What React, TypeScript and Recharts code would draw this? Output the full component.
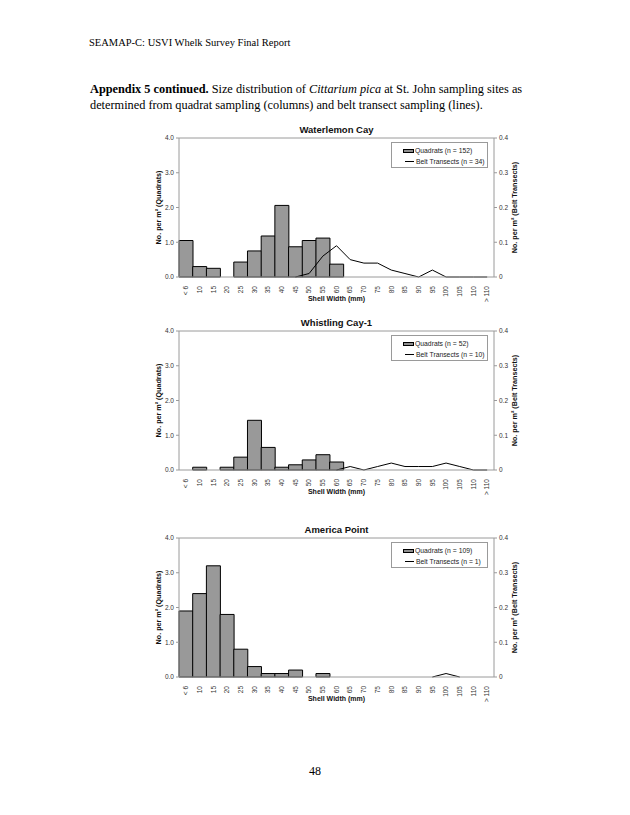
import React from 'react';
import { ComposedChart, Bar, Line, XAxis, YAxis, ReferenceLine } from 'recharts';

const sizeClasses = ['< 6', '10', '15', '20', '25', '30', '35', '40', '45', '50', '55', '60', '65', '70', '75', '80', '85', '90', '95', '100', '105', '110', '> 110'];

const leftTicks = [0, 1, 2, 3, 4];
const rightTicks = [0, 0.1, 0.2, 0.3, 0.4];

// Waterlemon Cay
const waterlemonQuadrats = [1.05, 0.3, 0.25, 0, 0.43, 0.75, 1.18, 2.06, 0.87, 1.05, 1.12, 0.37, 0, 0, 0, 0, 0, 0, 0, 0, 0, 0, 0];
const waterlemonBelt = [null, null, null, null, null, null, null, null, 0, 0.01, 0.06, 0.09, 0.05, 0.04, 0.04, 0.02, 0.01, 0, 0.02, 0, 0, 0, 0];

// Whistling Cay-1
const whistlingQuadrats = [0, 0.08, 0, 0.08, 0.37, 1.43, 0.65, 0.08, 0.15, 0.29, 0.44, 0.23, 0, 0, 0, 0, 0, 0, 0, 0, 0, 0, 0];
const whistlingBelt = [null, null, null, null, null, null, null, null, null, null, null, 0, 0.01, 0, 0.01, 0.02, 0.01, 0.01, 0.01, 0.02, 0.01, 0, 0];

// America Point
const americaQuadrats = [1.9, 2.4, 3.2, 1.8, 0.8, 0.3, 0.1, 0.1, 0.2, 0, 0.1, 0, 0, 0, 0, 0, 0, 0, 0, 0, 0, 0, 0];
const americaBelt = [null, null, null, null, null, null, null, null, null, null, null, null, null, null, null, null, null, null, 0, 0.01, 0, null, null];

const sans = '"Liberation Sans", Arial, sans-serif';
const serif = '"Liberation Serif", "Times New Roman", serif';
const axisGray = '#9a9a9a';

const SizeTick = (props: any) => {
  const { x, y, payload } = props;
  return (
    <text
      x={x}
      y={y + 1}
      transform={`rotate(-90 ${x} ${y + 1})`}
      textAnchor="end"
      dy="0.35em"
      fontSize={6.5}
      fontFamily={sans}
      fill="#333"
    >
      {payload.value}
    </text>
  );
};

type PanelProps = {
  top: number;
  title: string;
  quadrats: number[];
  belt: (number | null)[];
  nQ: number;
  nB: number;
};

const Panel: React.FC<PanelProps> = ({ top, title, quadrats, belt, nQ, nB }) => {
  const data = sizeClasses.map((s, i) => ({ size: s, quadrats: quadrats[i], belt: belt[i] }));

  return (
    <div style={{ position: 'absolute', left: 140, top, width: 400, height: 190 }}>
      <div style={{ position: 'absolute', left: 39, width: 315, top: 4, textAlign: 'center', fontFamily: sans, fontWeight: 'bold', fontSize: 9.5, color: '#111' }}>
        {title}
      </div>
      <ComposedChart width={400} height={190} data={data} margin={{ top: 18, right: 0, bottom: 0, left: 0 }} barCategoryGap={0} barGap={0}>
        <XAxis
          dataKey="size"
          interval={0}
          height={33}
          tick={<SizeTick />}
          tickLine={false}
          axisLine={{ stroke: axisGray }}
          label={{ value: 'Shell Width (mm)', position: 'insideBottom', offset: 9, style: { fontFamily: sans, fontWeight: 'bold', fontSize: 7, fill: '#111' } }}
        />
        <YAxis
          yAxisId="left"
          width={39}
          domain={[0, 4]}
          ticks={leftTicks}
          tickSize={3}
          tickFormatter={(v: number) => v.toFixed(1)}
          tick={{ fontSize: 6.5, fontFamily: sans, fill: '#333' }}
          tickLine={{ stroke: axisGray }}
          axisLine={{ stroke: axisGray }}
          label={{ value: 'No. per m² (Quadrats)', angle: -90, position: 'center', dx: -1.5, style: { fontFamily: sans, fontWeight: 'bold', fontSize: 7.2, fill: '#111' } }}
        />
        <YAxis
          yAxisId="right"
          orientation="right"
          width={46}
          domain={[0, 0.4]}
          ticks={rightTicks}
          tickSize={3}
          tickFormatter={(v: number) => (v === 0 ? '0' : v.toFixed(1))}
          tick={{ fontSize: 6.5, fontFamily: sans, fill: '#333' }}
          tickLine={{ stroke: axisGray }}
          axisLine={{ stroke: axisGray }}
          label={{ value: 'No. per m² (Belt Transects)', angle: -90, position: 'center', dx: -3, style: { fontFamily: sans, fontWeight: 'bold', fontSize: 7.2, fill: '#111' } }}
        />
        <ReferenceLine yAxisId="left" y={4} stroke={axisGray} />
        <Bar yAxisId="left" dataKey="quadrats" fill="#999999" stroke="#000" strokeWidth={1} isAnimationActive={false} />
        <Line yAxisId="right" type="linear" dataKey="belt" stroke="#000" strokeWidth={1} dot={false} activeDot={false} isAnimationActive={false} />
      </ComposedChart>
      <div style={{ position: 'absolute', left: 251, top: 22, width: 97, height: 26, border: `1px solid ${axisGray}`, boxSizing: 'border-box', fontFamily: sans, fontSize: 6.8, color: '#222', background: '#fff', whiteSpace: 'nowrap' }}>
        <div style={{ position: 'absolute', left: 11, top: 4, display: 'flex', alignItems: 'center' }}>
          <span style={{ display: 'inline-block', width: 11, height: 4, background: '#8f8f8f', border: '1px solid #000', boxSizing: 'border-box', marginRight: 1 }} />
          <span>Quadrats (n = {nQ})</span>
        </div>
        <div style={{ position: 'absolute', left: 13, top: 15, display: 'flex', alignItems: 'center' }}>
          <span style={{ display: 'inline-block', width: 9, height: 1, background: '#000', marginRight: 2 }} />
          <span>Belt Transects (n = {nB})</span>
        </div>
      </div>
    </div>
  );
};

const App: React.FC = () => {
  return (
    <div style={{ position: 'absolute', left: 0, top: 0, width: 630, height: 815, background: '#fff', fontFamily: serif, color: '#000' }}>
      <div style={{ position: 'absolute', left: 89, top: 37, fontSize: 10.5 }}>SEAMAP-C: USVI Whelk Survey Final Report</div>
      <div style={{ position: 'absolute', left: 90, top: 81, fontSize: 12.3, lineHeight: '16px', width: 470 }}>
        <b>Appendix 5 continued.</b> Size distribution of <i>Cittarium pica</i> at St. John sampling sites as
        <br />
        determined from quadrat sampling (columns) and belt transect sampling (lines).
      </div>
      <Panel top={120} title="Waterlemon Cay" quadrats={waterlemonQuadrats} belt={waterlemonBelt} nQ={152} nB={34} />
      <Panel top={313} title="Whistling Cay-1" quadrats={whistlingQuadrats} belt={whistlingBelt} nQ={52} nB={10} />
      <Panel top={520} title="America Point" quadrats={americaQuadrats} belt={americaBelt} nQ={109} nB={1} />
      <div style={{ position: 'absolute', left: 0, width: 630, top: 764, textAlign: 'center', fontSize: 12 }}>48</div>
    </div>
  );
};

export default App;
